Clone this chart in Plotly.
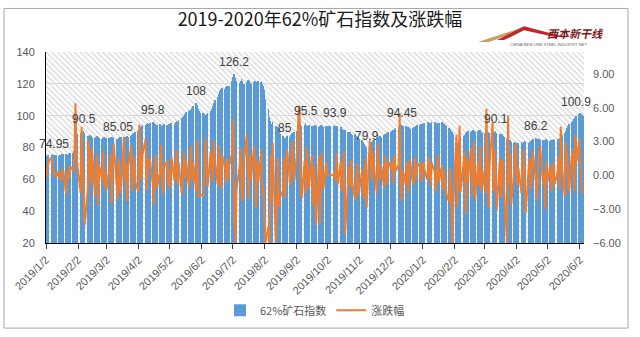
import pandas as pd
import plotly.graph_objects as go

# ---------------- data ----------------
month_starts = ["2019-01-02", "2019-02-01", "2019-03-01", "2019-04-01", "2019-05-01", "2019-06-01",
                "2019-07-01", "2019-08-01", "2019-09-01", "2019-10-01", "2019-11-01", "2019-12-01",
                "2020-01-02", "2020-02-01", "2020-03-01", "2020-04-01", "2020-05-01", "2020-06-01"]

idx_2019_01 = [74.95, 75.3, 75.1, 75.6, 75.8, 75.4, 75.2, 75.0, 74.8, 75.1, 75.5, 75.9, 76.2, 75.7, 75.3, 75.6, 76.0, 76.4, 76.5, 77.8, 82.6, 87.3]
idx_2019_02 = [88.2, 89.0, 89.6, 90.1, 90.5, 89.2, 87.5, 86.9, 88.0, 87.4, 86.2, 85.7, 86.8, 87.5, 86.9, 86.0, 85.3, 86.1, 86.6, 85.9]
idx_2019_03 = [86.2, 85.8, 86.4, 86.9, 86.5, 85.9, 85.4, 85.05, 85.7, 86.3, 86.8, 86.1, 85.6, 86.4, 87.0, 86.6, 87.2, 87.9, 88.5, 89.2, 89.8]
idx_2019_04 = [90.5, 91.6, 92.8, 93.4, 93.9, 94.2, 94.8, 95.1, 95.0, 95.4, 95.8, 95.2, 94.6, 93.9, 94.3, 94.6, 93.8, 93.3, 93.9, 94.5, 94.0, 93.6]
idx_2019_05 = [94.5, 94.9, 95.3, 95.0, 95.8, 96.4, 96.0, 97.2, 98.5, 99.4, 100.1, 101.3, 102.0, 102.8, 103.5, 102.9, 104.6, 106.0, 108.0, 106.5, 104.2, 102.8, 101.9]
idx_2019_06 = [101.5, 100.8, 100.2, 100.9, 101.8, 103.0, 104.5, 106.2, 108.0, 109.8, 111.5, 113.4, 115.2, 116.8, 117.5, 116.9, 117.8, 118.6, 117.9, 118.8]
idx_2019_07 = [121.5, 124.0, 126.2, 123.5, 121.8, 120.6, 121.9, 122.8, 121.5, 120.2, 121.0, 122.3, 121.6, 120.5, 119.8, 121.2, 122.0, 121.4, 120.7, 121.8, 120.9, 119.6, 118.4]
idx_2019_08 = [116.0, 110.5, 104.2, 99.0, 96.8, 94.5, 95.8, 93.4, 91.0, 92.6, 90.3, 88.5, 87.0, 86.2, 85.0, 86.1, 87.3, 86.8, 88.0, 89.2, 88.6, 89.5]
idx_2019_09 = [90.2, 94.6, 94.1, 94.8, 93.6, 94.2, 95.5, 94.4, 93.5, 94.0, 93.2, 92.5, 93.6, 94.3, 93.8, 92.9, 93.4, 94.1, 93.7, 92.8, 93.3]
idx_2019_10 = [93.6, 93.6, 93.6, 93.6, 93.6, 93.9, 93.4, 93.8, 93.2, 92.6, 91.8, 91.2, 90.4, 90.9, 89.7, 88.9, 89.5, 88.6, 87.8, 88.4, 87.5, 86.9, 86.2]
idx_2019_11 = [85.5, 84.8, 83.6, 82.4, 81.2, 79.9, 81.3, 82.8, 83.5, 84.2, 85.0, 84.6, 85.8, 86.5, 87.1, 86.6, 87.8, 88.5, 88.1, 89.0, 89.6]
idx_2019_12 = [89.8, 90.5, 91.2, 91.8, 92.3, 92.9, 93.6, 94.0, 94.45, 93.8, 93.2, 92.6, 93.1, 92.4, 91.9, 92.5, 93.0, 92.7, 93.4, 93.9, 94.2, 94.6]
idx_2020_01 = [94.8, 95.3, 95.9, 96.2, 95.7, 95.4, 95.8, 96.1, 95.6, 95.2, 94.9, 95.4, 95.8, 95.3, 94.7, 94.1, 93.6, 92.4, 91.5, 90.3, 89.6, 88.2]
idx_2020_02 = [83.5, 82.8, 84.2, 85.6, 86.4, 87.3, 88.1, 88.9, 89.5, 90.2, 89.6, 90.4, 91.0, 90.6, 89.8, 90.5, 91.2, 90.7, 89.9, 89.2]
idx_2020_03 = [89.0, 88.6, 89.3, 89.8, 88.9, 89.5, 89.7, 90.0, 90.1, 89.2, 88.4, 87.6, 88.3, 87.1, 86.4, 85.2, 84.8, 83.9, 84.5, 83.6, 82.8, 83.4]
idx_2020_04 = [82.5, 83.1, 82.7, 83.5, 82.9, 83.6, 84.0, 83.4, 82.8, 83.3, 84.1, 84.6, 85.3, 86.2, 85.5, 84.8, 85.2, 84.7, 85.0, 84.3, 84.9, 85.3]
idx_2020_05 = [84.8, 84.3, 85.0, 84.6, 85.3, 84.9, 85.5, 85.1, 86.0, 86.8, 87.9, 89.2, 90.6, 92.0, 93.5, 94.6, 95.8, 96.9, 98.0, 98.8, 99.6]
idx_2020_06 = [100.9, 101.8, 101.2, 100.6, 100.0]

chg_2019_01 = [-0.2, 0.5, 1.2, 1.6, 0.8, 0.1, 0.3, -0.2, 0.4, 0.2, -0.5, 0.3, 0.6, -1.7, 0.2, 0.5, -0.3, 0.8, 0.4, 1.5, 6.4, 2.1]
chg_2019_02 = [0.8, -1.5, 4.3, 1.2, -2.0, -4.4, -1.2, 3.1, 0.5, -0.8, 2.4, -1.9, 0.6, 1.8, -2.7, 0.9, -0.4, 2.2, -1.1, 0.3]
chg_2019_03 = [-1.3, 0.7, 1.9, -2.5, 0.4, 2.8, -0.9, -2.2, 1.5, 0.2, -1.6, 3.4, -0.5, 1.1, -2.3, 0.8, 2.6, -1.4, 0.3, 1.7, -0.6]
chg_2019_04 = [-1.5, 4.5, 0.6, -0.4, 1.9, 3.2, -1.3, 0.5, 1.6, 1.5, -0.8, -2.6, 0.9, 1.8, -1.1, 0.4, 2.7, -0.6, -1.6, 0.8, 1.3, -0.9]
chg_2019_05 = [0.4, -1.2, 1.6, -0.5, 0.9, 2.3, -0.8, 1.1, -1.7, 0.6, 2.0, -0.3, 1.4, -1.1, 0.8, 2.6, -0.6, 1.2, -1.4, 3.1, -1.8, -1.8, -1.7]
chg_2019_06 = [-1.8, 1.2, 3.3, 0.5, -1.0, 2.1, 0.8, -0.6, 3.1, 1.4, -0.9, 2.6, 0.3, -1.2, 1.8, 0.6, -0.7, 1.5, -0.4, 0.9]
chg_2019_07 = [2.1, 4.9, -3.5, -6.0, -1.2, 0.8, 2.4, -1.5, -2.3, 1.1, 3.6, -0.8, -2.1, 1.9, -0.4, 2.6, 0.7, -2.9, 1.3, -0.6, 2.2, -1.7, -0.9]
chg_2019_08 = [-3.8, -6.0, -4.5, -6.0, 1.8, -2.4, 2.9, -6.0, -3.1, 1.5, -2.8, -1.9, -1.4, 1.6, -2.0, 1.2, 2.3, -0.9, 1.5, 3.0, 0.8, -0.5]
chg_2019_09 = [2.4, 5.6, 6.2, -0.8, -2.1, 1.3, -1.6, 2.5, 0.4, -1.2, 1.8, -2.6, 0.9, -0.5, -4.4, 1.7, -4.3, 2.0, 0.6, -1.3, 1.1]
chg_2019_10 = [0.0, 0.0, 0.0, 0.0, 0.0, 0.3, -0.5, 1.9, -0.8, 1.2, -1.5, 0.6, 2.1, -5.3, -0.4, 0.8, -1.0, 1.4, -0.7, -2.2, 0.5, 1.0, -1.8]
chg_2019_11 = [-1.2, 0.6, -2.0, -0.9, 1.5, -2.9, 3.1, 1.4, -0.5, 2.2, 0.8, -1.6, 2.8, 1.0, -0.4, 0.9, -1.1, 1.7, 0.3, -0.8, 1.2]
chg_2019_12 = [0.6, 1.3, -0.7, 1.8, 0.4, 0.9, 5.5, -1.1, -2.3, 0.5, -0.8, 1.2, -1.6, 0.3, 1.4, -0.9, 0.6, 1.6, -0.4, 0.8, 1.1, -0.6]
chg_2020_01 = [1.2, 0.5, -0.4, 1.6, 0.8, -0.9, 1.1, 0.3, -1.5, 0.7, 1.9, -0.6, 0.9, -1.2, 0.4, -0.8, -1.6, -2.4, 0.6, -1.3, -6.0, -2.5]
chg_2020_02 = [3.6, -2.8, 1.2, 4.4, -1.5, 0.9, 2.1, -3.4, 1.5, -0.6, 2.4, -1.8, 0.7, 3.0, -2.2, 1.1, -0.9, 2.6, -1.4, 0.5]
chg_2020_03 = [-1.6, 5.9, 1.2, -2.9, 0.8, 4.7, -1.4, 2.3, -0.5, -3.1, 1.5, -2.0, 0.6, 1.4, -1.2, -6.0, 5.3, -0.8, 1.9, -2.6, 0.4, 2.8]
chg_2020_04 = [1.8, -0.9, 0.6, -1.6, 1.2, 2.4, -0.7, -3.4, 0.8, 1.5, -1.2, 0.4, 2.1, -0.6, -2.2, 1.0, 1.7, 2.6, -0.9, 0.3, -3.0, 1.2]
chg_2020_05 = [-0.6, 0.9, -1.4, 0.5, 1.1, -0.8, 0.3, 1.6, -1.2, 4.3, 0.8, -1.9, 2.9, 1.7, 0.6, -1.6, 2.2, 0.9, -1.4, 3.6, 1.1]
chg_2020_06 = [3.2, 0.9, -0.6, -1.6, -1.4]

tick_labels = ["2019/1/2", "2019/2/2", "2019/3/2", "2019/4/2", "2019/5/2", "2019/6/2", "2019/7/2",
               "2019/8/2", "2019/9/2", "2019/10/2", "2019/11/2", "2019/12/2", "2020/1/2", "2020/2/2",
               "2020/3/2", "2020/4/2", "2020/5/2", "2020/6/2"]
label_dates = ["2019-01-02", "2019-02-07", "2019-03-12", "2019-04-15", "2019-05-27", "2019-07-03",
               "2019-08-21", "2019-09-10", "2019-10-08", "2019-11-08", "2019-12-12", "2020-03-12",
               "2020-04-20", "2020-06-01"]

series_name_bar = "62%矿石指数"
series_name_line = "涨跌幅"
title_text = "2019-2020年62%矿石指数及涨跌幅"

# ---------------- assemble ----------------
index_by_month = [idx_2019_01, idx_2019_02, idx_2019_03, idx_2019_04, idx_2019_05, idx_2019_06,
                  idx_2019_07, idx_2019_08, idx_2019_09, idx_2019_10, idx_2019_11, idx_2019_12,
                  idx_2020_01, idx_2020_02, idx_2020_03, idx_2020_04, idx_2020_05, idx_2020_06]
chg_by_month = [chg_2019_01, chg_2019_02, chg_2019_03, chg_2019_04, chg_2019_05, chg_2019_06,
                chg_2019_07, chg_2019_08, chg_2019_09, chg_2019_10, chg_2019_11, chg_2019_12,
                chg_2020_01, chg_2020_02, chg_2020_03, chg_2020_04, chg_2020_05, chg_2020_06]

dates, idx_vals, chg_vals = [], [], []
for start, iv, cv in zip(month_starts, index_by_month, chg_by_month):
    n = min(len(iv), len(cv))
    d = pd.bdate_range(start, periods=n)
    dates += list(d)
    idx_vals += iv[:n]
    chg_vals += cv[:n]

series = pd.Series(idx_vals, index=pd.DatetimeIndex(dates))

DAY_MS = 86400000
x_start = pd.Timestamp("2019-01-02")
x_end = pd.Timestamp("2020-06-06")
Y_MIN, Y_MAX = 20, 140
Y2_MIN, Y2_MAX = -6, 10.94

W, H = 640, 337
L, R, T, B = 46, 56, 52, 92
PW, PH = W - L - R, H - T - B


def px(xp):
    return (xp - L) / PW


def py(yp):
    return (H - B - yp) / PH


fig = go.Figure()

# hatched plot-area background
fig.add_trace(go.Bar(
    x=[x_start + (x_end - x_start) / 2], y=[Y_MAX - Y_MIN], base=[Y_MIN],
    width=[(x_end - x_start).total_seconds() * 1000],
    marker=dict(color="rgba(0,0,0,0)", line=dict(width=0),
                pattern=dict(shape="\\", fgcolor="#d6d6d6", bgcolor="rgba(0,0,0,0)",
                             size=4, solidity=0.3, fillmode="replace")),
    showlegend=False, hoverinfo="skip", yaxis="y",
))

fig.add_trace(go.Bar(
    x=dates, y=idx_vals, name=series_name_bar,
    width=DAY_MS * 0.75, offset=0,
    marker=dict(color="#5B9BD5", line=dict(width=0)),
    yaxis="y",
))

fig.add_trace(go.Scatter(
    x=[d + pd.Timedelta(hours=12) for d in dates], y=chg_vals, name=series_name_line,
    mode="lines", line=dict(color="#ED7D31", width=2),
    yaxis="y2",
))

label_shift = {"2019-01-02": 7, "2020-06-01": -3}
annotations = []
for ds in label_dates:
    ts = pd.Timestamp(ds)
    v = float(series.loc[ts])
    annotations.append(dict(
        x=ts + pd.Timedelta(hours=12), y=v, xref="x", yref="y", text=f"{v:g}",
        showarrow=False, yshift=12, xshift=label_shift.get(ds, 0), xanchor="center",
        font=dict(family="Liberation Sans, Arial", size=12, color="#404040"),
    ))

# logo text
annotations.append(dict(x=px(575), y=py(33), xref="paper", yref="paper", text="<b><i>西本新干线</i></b>",
                        showarrow=False, xanchor="center", yanchor="middle",
                        font=dict(family="Noto Sans CJK SC", size=11, color="#7a1c1c")))
annotations.append(dict(x=px(548), y=py(44), xref="paper", yref="paper",
                        text="CHINA NEW LINE STEEL INDUSTRY NET", showarrow=False,
                        xanchor="center", yanchor="middle",
                        font=dict(family="Liberation Sans", size=4, color="#666666")))

shapes = [
    # chart frame
    dict(type="rect", xref="paper", yref="paper", x0=px(4), x1=px(628), y0=py(331), y1=py(8),
         line=dict(color="#a6a6a6", width=1), fillcolor="rgba(0,0,0,0)", layer="below"),
    # logo
    dict(type="path", xref="paper", yref="paper",
         path=f"M {px(478)},{py(42)} L {px(520)},{py(28)} L {px(525)},{py(29)} L {px(489)},{py(42)} Z",
         fillcolor="#c9a063", line=dict(width=0)),
    dict(type="path", xref="paper", yref="paper",
         path=(f"M {px(497)},{py(40)} L {px(524)},{py(26)} L {px(562)},{py(36)} L {px(556)},{py(37)} "
               f"L {px(524)},{py(30)} L {px(504)},{py(40)} Z"),
         fillcolor="#c0272d", line=dict(width=0)),
]

tick_vals = [pd.to_datetime(t, format="%Y/%m/%d") for t in tick_labels]
tick_font = dict(family="Liberation Sans, Arial", size=11, color="#595959")

fig.update_layout(
    width=W, height=H,
    margin=dict(l=L, r=R, t=T, b=B),
    paper_bgcolor="white", plot_bgcolor="white",
    barmode="overlay", bargap=0,
    title=dict(text=title_text, x=0.5, xref="container", xanchor="center",
               y=1 - 20 / H, yref="container", yanchor="middle",
               font=dict(family="Noto Sans CJK SC", size=18, color="#1a1a1a")),
    xaxis=dict(type="date", range=[x_start, x_end], tickvals=tick_vals, ticktext=tick_labels,
               tickangle=-45, ticks="outside", ticklen=5, tickcolor="#404040",
               showline=True, linecolor="#000000", linewidth=1, showgrid=False,
               tickfont=tick_font, zeroline=False),
    yaxis=dict(range=[Y_MIN, Y_MAX], dtick=20, showgrid=True, gridcolor="#d9d9d9", gridwidth=1,
               showline=True, linecolor="#000000", linewidth=1, ticks="", tickfont=tick_font,
               ticklabelstandoff=8, zeroline=False),
    yaxis2=dict(range=[Y2_MIN, Y2_MAX], overlaying="y", side="right", tickvals=[-6, -3, 0, 3, 6, 9],
                tickformat=".2f", ticksuffix="%", showgrid=False, showline=False, ticks="",
                tickfont=tick_font, ticklabelstandoff=8, zeroline=False),
    legend=dict(orientation="h", x=0.5, xanchor="center", y=py(313), yanchor="middle",
                font=dict(family="Noto Sans CJK SC", size=11, color="#595959"),
                bgcolor="rgba(0,0,0,0)", traceorder="normal"),
    annotations=annotations,
    shapes=shapes,
    showlegend=True,
)

fig.write_html("out.html")
